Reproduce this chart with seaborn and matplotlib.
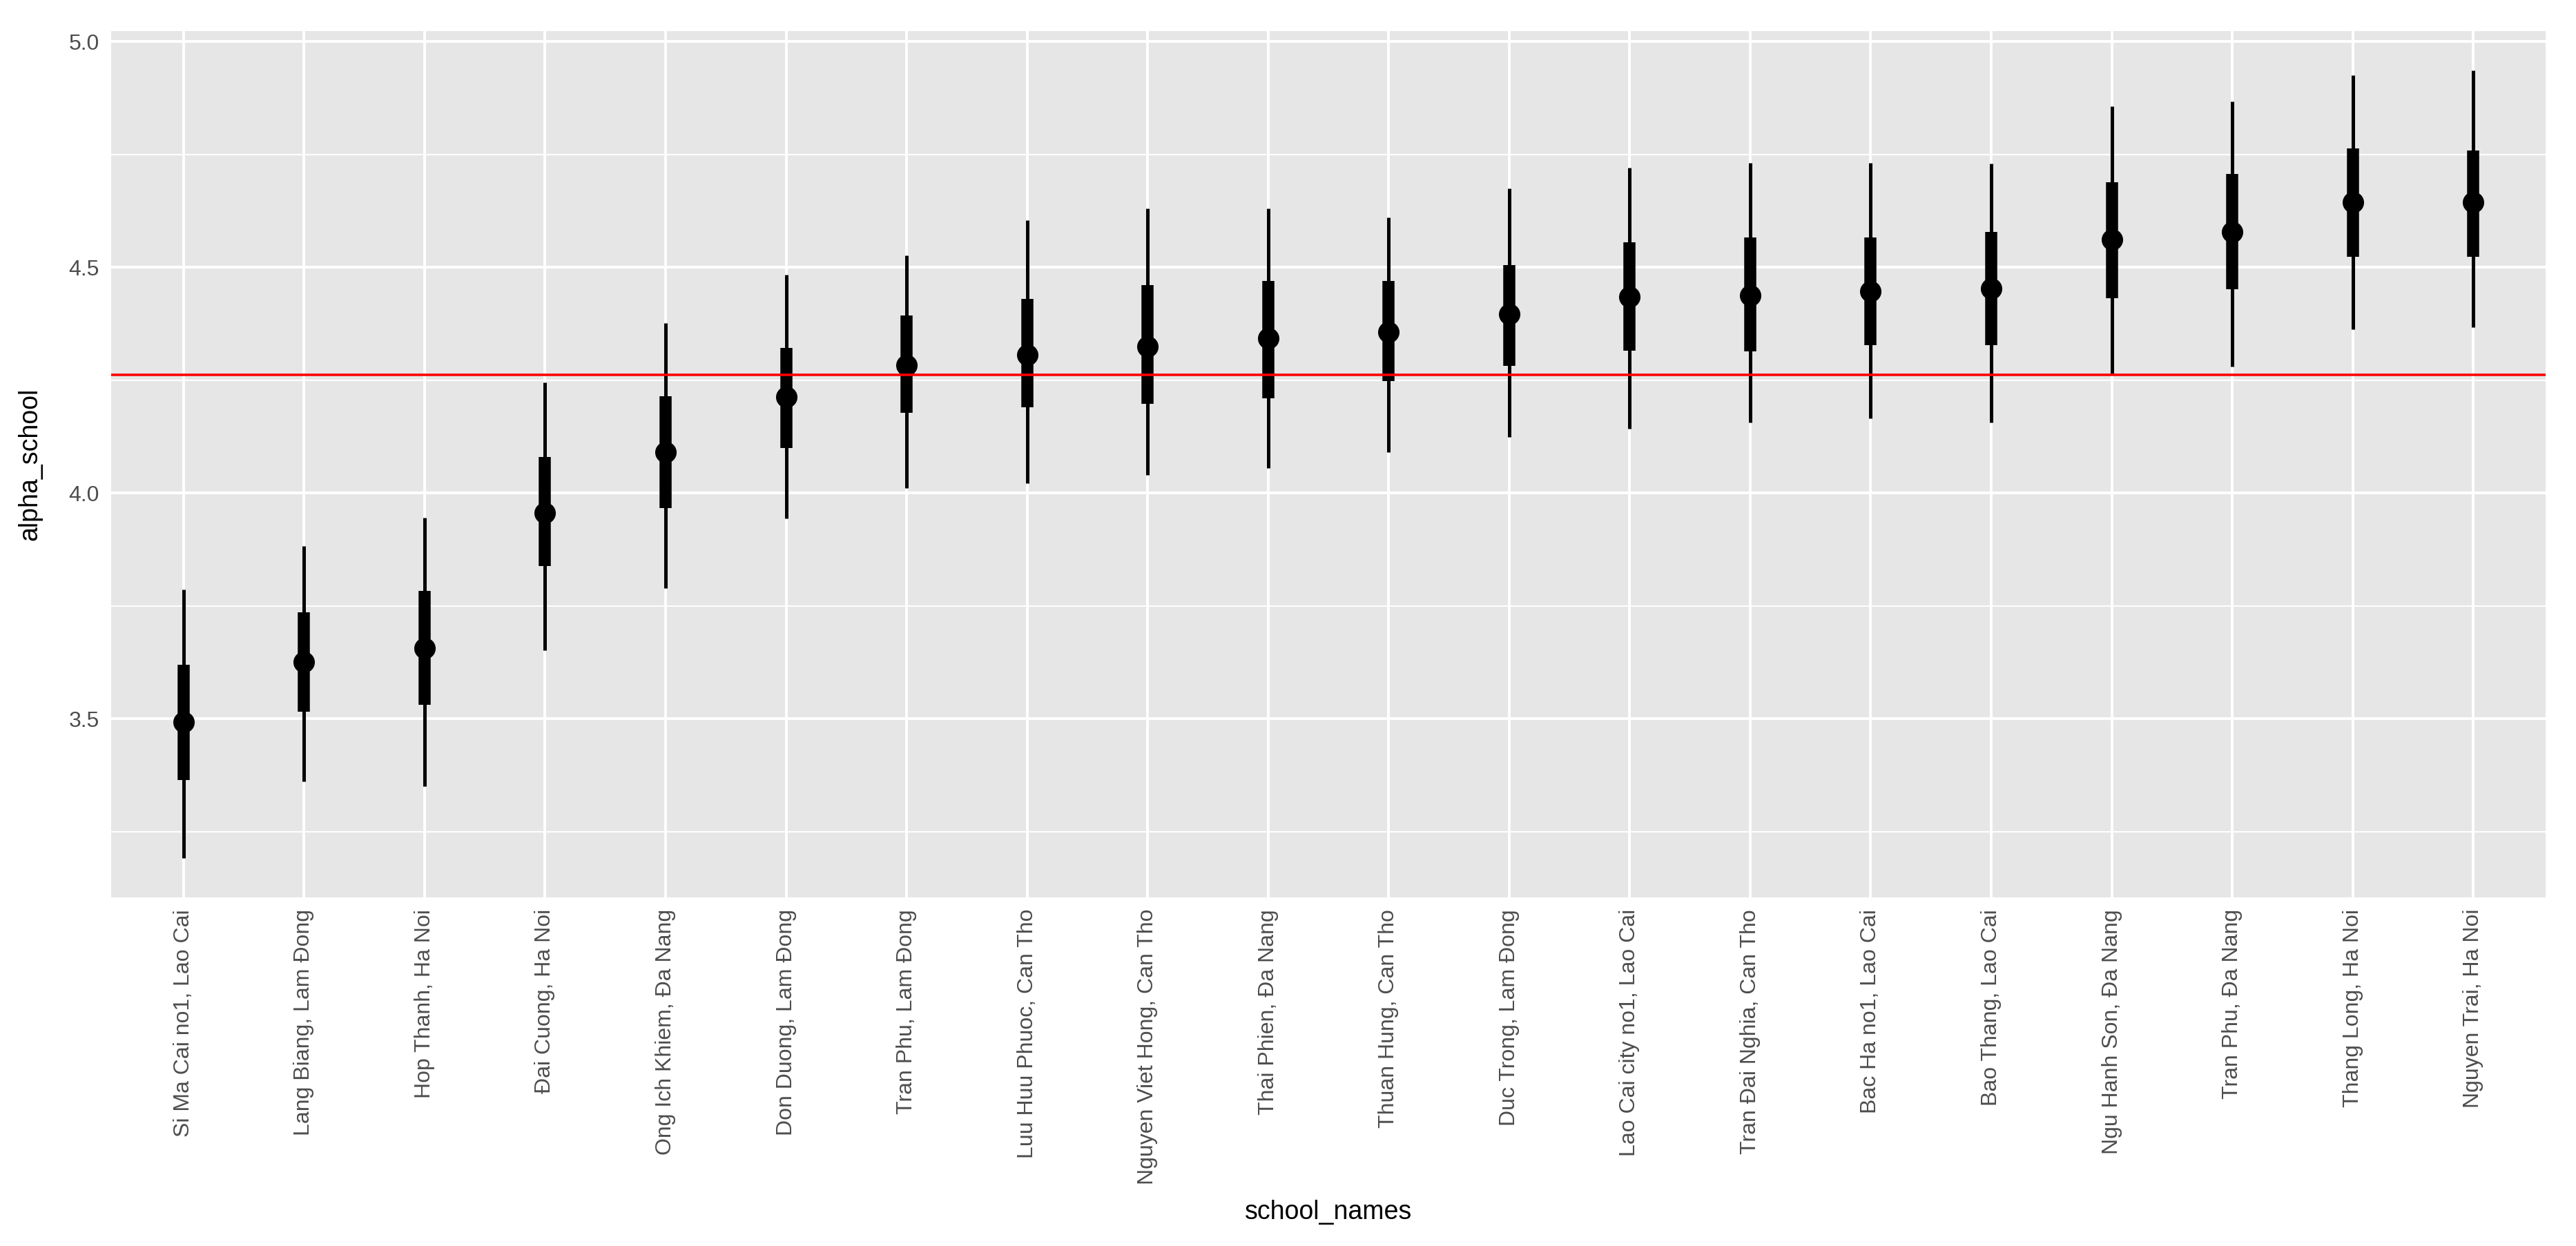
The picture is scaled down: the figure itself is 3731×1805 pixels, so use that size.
import matplotlib
matplotlib.use("Agg")
import matplotlib.pyplot as plt
import seaborn as sns
import pandas as pd

# data
school_names = [
    "Si Ma Cai no1, Lao Cai", "Lang Biang, Lam Đong", "Hop Thanh, Ha Noi",
    "Đai Cuong, Ha Noi", "Ong Ich Khiem, Đa Nang", "Don Duong, Lam Đong",
    "Tran Phu, Lam Đong", "Luu Huu Phuoc, Can Tho", "Nguyen Viet Hong, Can Tho",
    "Thai Phien, Đa Nang", "Thuan Hung, Can Tho", "Duc Trong, Lam Đong",
    "Lao Cai city no1, Lao Cai", "Tran Đai Nghia, Can Tho", "Bac Ha no1, Lao Cai",
    "Bao Thang, Lao Cai", "Ngu Hanh Son, Đa Nang", "Tran Phu, Đa Nang",
    "Thang Long, Ha Noi", "Nguyen Trai, Ha Noi",
]
alpha_mean = [3.493, 3.626, 3.657, 3.956, 4.090, 4.213, 4.283, 4.306, 4.325, 4.343,
              4.356, 4.397, 4.434, 4.437, 4.447, 4.453, 4.562, 4.579, 4.644, 4.644]
lo50 = [3.365, 3.516, 3.531, 3.838, 3.967, 4.100, 4.178, 4.190, 4.197, 4.210,
        4.248, 4.282, 4.316, 4.314, 4.328, 4.328, 4.432, 4.452, 4.524, 4.524]
hi50 = [3.620, 3.736, 3.783, 4.080, 4.215, 4.322, 4.394, 4.430, 4.460, 4.470,
        4.470, 4.505, 4.556, 4.566, 4.566, 4.578, 4.688, 4.707, 4.764, 4.759]
lo95 = [3.192, 3.362, 3.351, 3.652, 3.790, 3.944, 4.012, 4.022, 4.040, 4.055,
        4.090, 4.124, 4.142, 4.157, 4.165, 4.157, 4.265, 4.281, 4.363, 4.367]
hi95 = [3.787, 3.883, 3.945, 4.245, 4.376, 4.484, 4.526, 4.604, 4.630, 4.630,
        4.610, 4.675, 4.720, 4.732, 4.732, 4.730, 4.856, 4.868, 4.926, 4.936]
overall_mean = 4.262

df = pd.DataFrame({"school_names": school_names, "alpha_school": alpha_mean,
                   "lo50": lo50, "hi50": hi50, "lo95": lo95, "hi95": hi95})

sns.set_theme(style="darkgrid")
plt.rcParams["font.family"] = ["Liberation Sans", "DejaVu Sans"]

W, H, DPI = 3731, 1805, 200
fig = plt.figure(figsize=(W / DPI, H / DPI), dpi=DPI)
left, right, top, bottom = 161, 3687, 45, 1300
ax = fig.add_axes([left / W, 1 - bottom / H, (right - left) / W, (bottom - top) / H])
ax.set_facecolor("#E6E6E6")

# intervals
ax.vlines(df["school_names"], df["lo95"], df["hi95"], color="black", lw=1.8, zorder=3)
ax.vlines(df["school_names"], df["lo50"], df["hi50"], color="black", lw=6.3, zorder=3)
sns.scatterplot(data=df, x="school_names", y="alpha_school", color="black",
                s=125, linewidth=0, zorder=4, ax=ax)
ax.axhline(overall_mean, color="#FF0000", lw=1.3, zorder=5)

n = len(school_names)
ax.set_xlim(-0.6, n - 1 + 0.6)
rng = max(hi95) - min(lo95)
ax.set_ylim(min(lo95) - 0.05 * rng, max(hi95) + 0.05 * rng)
ax.set_yticks([3.5, 4.0, 4.5, 5.0])
ax.set_yticks([3.25, 3.75, 4.25, 4.75], minor=True)

ax.grid(which="major", color="white", lw=1.4)
ax.grid(which="minor", axis="y", color="white", lw=0.7)
ax.grid(which="minor", axis="x", visible=False)
for s in ax.spines.values():
    s.set_visible(False)

ax.tick_params(axis="both", which="major", length=3.6, width=1.1, color="#333333",
               labelcolor="#4D4D4D", labelsize=11.5, pad=2.5)
ax.tick_params(axis="both", which="minor", length=0)
ax.set_xticks(range(n))
ax.set_xticklabels(school_names, rotation=90, va="top", ha="center")
ax.set_yticklabels(["3.5", "4.0", "4.5", "5.0"])

ax.set_xlabel("school_names", fontsize=13.5, color="black")
ax.set_ylabel("alpha_school", fontsize=13.5, color="black")
ax.xaxis.set_label_coords(0.5, -(1756 - bottom) / (bottom - top))
ax.yaxis.set_label_coords(-(left - 43) / (right - left), 0.5)
ax.xaxis.label.set_va("center")
ax.yaxis.label.set_va("center")

fig.savefig("out.png", dpi=DPI)
